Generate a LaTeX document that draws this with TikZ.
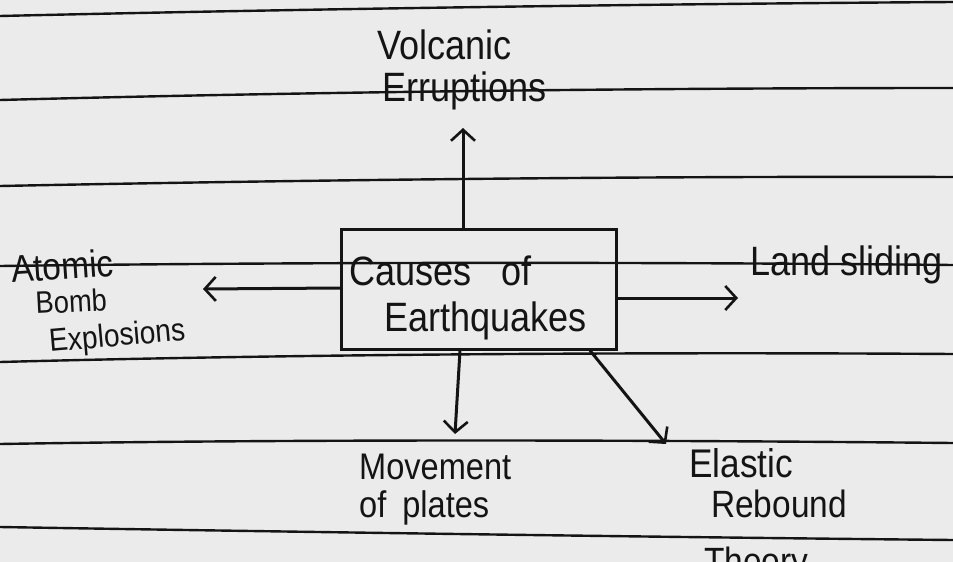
\documentclass[tikz,border=0pt]{standalone}
\usepackage{fontspec}
\setmainfont[FakeStretch=0.88]{Liberation Sans}
\usetikzlibrary{arrows.meta}
\definecolor{paper}{RGB}{236,235,236}
\definecolor{ink}{RGB}{20,20,20}
\begin{document}
\begin{tikzpicture}[x=1pt,y=-1pt,
  rule/.style={ink,line width=2.4pt},
  hand/.style={inner sep=0pt,anchor=base west,text=ink},
  big/.style={hand,font=\fontsize{41}{46}\selectfont},
  causebox/.style={draw=ink,line width=3pt,minimum width=275pt,minimum height=120pt,inner sep=0pt},
  arr/.style={ink,line width=3pt,-{Straight Barb[length=11pt,width=24pt,line width=2.6pt]}}]
\useasboundingbox (0,0) rectangle (953,562);
\clip (0,0) rectangle (953,562);
\fill[paper] (0,0) rectangle (953,562);
% ruled paper
\draw[rule] (0,16) .. controls (300,9) and (650,4) .. (953,2);
\draw[rule] (0,100) .. controls (300,92) and (650,88) .. (953,88);
\draw[rule] (0,186) .. controls (300,180) and (650,176) .. (953,177);
\draw[rule] (0,266) .. controls (300,262) and (650,262) .. (953,265);
\draw[rule] (0,362) .. controls (300,354) and (650,352) .. (953,354);
\draw[rule] (0,444) .. controls (300,439) and (650,440) .. (953,443);
\draw[rule] (0,527) .. controls (300,532) and (650,537) .. (953,540);
% central box
\node[causebox] (box) at (479,289) {};
\node[big] (causes) at (349,285) {Causes\hspace{30pt}of};
\node[big] (earth) at (384,331) {Earthquakes};
% labels
\node[big] (volc) at (377,59) {Volcanic};
\node[big] (erup) at (382,101) {Erruptions};
\node[big] (land) at (750,275) {Land sliding};
\node[hand,font=\fontsize{38}{40}\selectfont,rotate=4] (atomic) at (12,283) {Atomic};
\node[hand,font=\fontsize{31}{34}\selectfont,rotate=3] (bomb) at (36,314) {Bomb};
\node[hand,font=\fontsize{32}{34}\selectfont,rotate=5] (expl) at (50,352) {Explosions};
\node[big,font=\fontsize{37}{40}\selectfont] (move) at (359,479) {Movement};
\node[big,font=\fontsize{37}{40}\selectfont] (plates) at (359,517) {of\hspace{16pt}plates};
\node[big,font=\fontsize{40}{44}\selectfont] (elastic) at (689,477) {Elastic};
\node[big,font=\fontsize{38}{44}\selectfont] (rebound) at (711,517) {Rebound};
\node[big,font=\fontsize{38}{44}\selectfont] (theory) at (704,574) {Theory};
% arrow end points
\coordinate (eup) at (463,128);
\coordinate (eleft) at (203,289);
\coordinate (eright) at (738,298);
\coordinate (edown) at (455,434);
\coordinate (ediag) at (666,444);
% arrows
\draw[arr] ([xshift=-16pt]box.north) -- (eup);
\draw[arr] ([yshift=1pt]box.west) -- (eleft);
\draw[arr] ([yshift=-9pt]box.east) -- (eright);
\draw[arr] ([xshift=-19pt]box.south) -- (edown);
\draw[arr] ([xshift=-28pt]box.south east) -- (ediag);
\end{tikzpicture}
\end{document}
